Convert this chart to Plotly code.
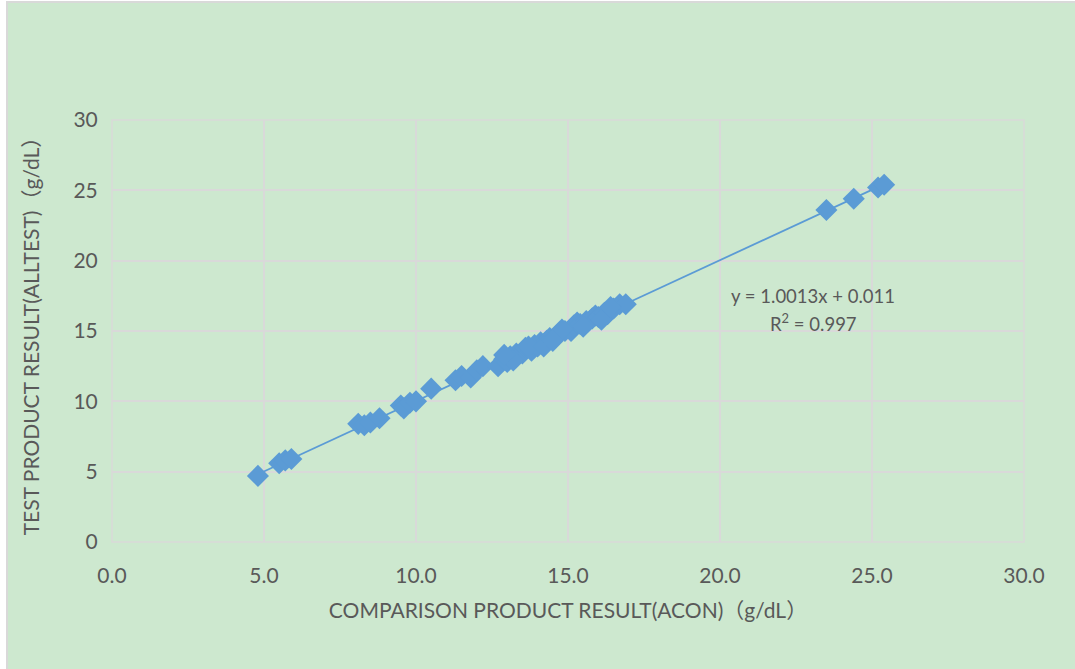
import plotly.graph_objects as go

# Data (g/dL)
acon = [4.8, 5.5, 5.7, 5.9, 8.1, 8.3, 8.5, 8.8, 9.5, 9.6, 9.8, 10.0,
        10.5, 11.3, 11.5, 11.8, 12.0, 12.2, 12.7, 12.9, 13.0, 13.1, 13.3,
        13.5, 13.6, 13.8, 13.9, 14.0, 14.1, 14.3, 14.4, 14.6, 14.7, 14.9,
        15.1, 15.2, 15.3, 15.4, 15.6, 15.8, 15.9, 16.0, 16.2, 16.3, 16.5,
        16.7, 16.9, 13.2, 13.7, 14.2, 14.8, 15.5, 16.1, 12.9, 14.5, 16.4,
        23.5, 24.4, 25.2, 25.4]
alltest = [4.7, 5.6, 5.8, 5.9, 8.4, 8.3, 8.5, 8.8, 9.7, 9.5, 9.9, 10.0,
           10.9, 11.5, 11.8, 11.7, 12.2, 12.5, 12.5, 13.0, 12.8, 13.2, 13.4,
           13.4, 13.8, 13.6, 14.0, 13.9, 14.2, 14.3, 14.5, 14.6, 14.8, 15.0,
           15.0, 15.4, 15.6, 15.5, 15.7, 15.9, 16.1, 16.0, 16.3, 16.2, 16.6,
           16.9, 16.9, 12.9, 13.9, 13.9, 15.1, 15.3, 15.8, 13.3, 14.3, 16.7,
           23.6, 24.4, 25.2, 25.4]
slope = 1.0013
intercept = 0.011
x_ticks = [0, 5, 10, 15, 20, 25, 30]
y_ticks = [0, 5, 10, 15, 20, 25, 30]

blue = "#5B9BD5"
grey_text = "#595959"
grid = "#D9D9D9"
green = "rgb(205,232,207)"
font_family = "Lato, 'Noto Sans CJK SC', sans-serif"

xmin, xmax = min(acon), max(acon)
trend_x = [xmin, xmax]
trend_y = [slope * v + intercept for v in trend_x]

fig = go.Figure()
fig.add_trace(go.Scatter(x=trend_x, y=trend_y, mode="lines",
                         line=dict(color=blue, width=1.8),
                         hoverinfo="skip", showlegend=False))
fig.add_trace(go.Scatter(x=acon, y=alltest, mode="markers",
                         marker=dict(symbol="diamond", size=17, color=blue,
                                     line=dict(width=0)),
                         showlegend=False))

W, H = 1075, 669
ml, mr, mt, mb = 112, 51, 120, 127
pw, ph = W - ml - mr, H - mt - mb

def px(x):
    return (x - ml) / pw

def py(y):
    return (H - mb - y) / ph

fig.add_shape(type="rect", xref="paper", yref="paper",
              x0=px(7), x1=px(1090), y0=py(680), y1=py(2),
              line=dict(color=grid, width=2), fillcolor=green, layer="below")

fig.add_annotation(x=px(813), y=py(296), xref="paper", yref="paper",
                   xanchor="center", yanchor="middle",
                   text="y = 1.0013x + 0.011", showarrow=False,
                   font=dict(size=18.5, color=grey_text, family=font_family))
fig.add_annotation(x=px(813), y=py(322), xref="paper", yref="paper",
                   xanchor="center", yanchor="middle",
                   text="R<sup>2</sup> = 0.997", showarrow=False,
                   font=dict(size=18.5, color=grey_text, family=font_family))

fig.update_layout(
    width=W, height=H,
    margin=dict(l=ml, r=mr, t=mt, b=mb, autoexpand=False),
    paper_bgcolor="white",
    plot_bgcolor="rgba(0,0,0,0)",
    font=dict(family=font_family, color=grey_text, size=21),
    xaxis=dict(range=[0, 30], tickvals=x_ticks,
               ticktext=[f"{v:.1f}" for v in x_ticks],
               showgrid=True, gridcolor=grid, gridwidth=1.5,
               zeroline=False, showline=False, automargin=False,
               ticks="outside", ticklen=15, tickcolor="rgba(0,0,0,0)",
               tickfont=dict(size=21, color=grey_text),
               title=dict(text="COMPARISON PRODUCT RESULT(ACON)（g/dL）",
                          font=dict(size=21, color=grey_text), standoff=17)),
    yaxis=dict(range=[0, 30], tickvals=y_ticks,
               ticktext=[str(v) for v in y_ticks],
               showgrid=True, gridcolor=grid, gridwidth=1.5,
               zeroline=False, showline=False, automargin=False,
               ticks="outside", ticklen=9, tickcolor="rgba(0,0,0,0)",
               tickfont=dict(size=21, color=grey_text),
               title=dict(text="TEST PRODUCT RESULT(ALLTEST)（g/dL）",
                          font=dict(size=21, color=grey_text), standoff=28)),
)
fig.add_shape(type="rect", xref="paper", yref="paper", x0=0, x1=1, y0=0, y1=1,
              line=dict(color=grid, width=1.5), layer="below")

fig.write_html("out.html", config={"displayModeBar": False},
               post_script="document.body.style.margin='0';")
